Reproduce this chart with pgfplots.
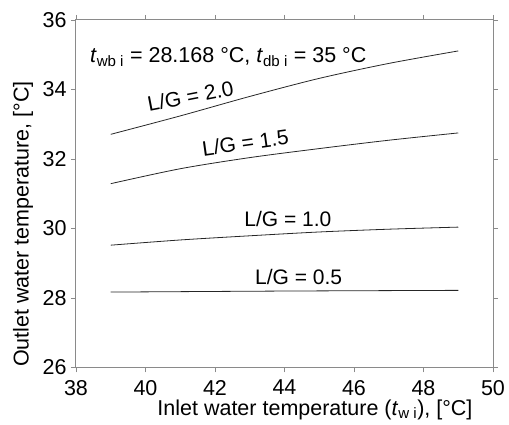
\documentclass[border=0pt]{standalone}
\usepackage{fontspec}
\setmainfont{Liberation Sans}
\usepackage{pgfplots}
\pgfplotsset{compat=1.18}
\definecolor{axgray}{HTML}{8A8A8A}
\begin{document}
\begin{tikzpicture}
\useasboundingbox (-76pt,-57.5pt) rectangle (433pt,367.5pt);
\begin{axis}[
  scale only axis,
  width=417pt, height=347.5pt,
  xmin=38, xmax=50, ymin=26, ymax=36,
  xtick={38,40,...,50}, ytick={26,28,...,36},
  tick align=outside,
  major tick length=5pt,
  axis line style={axgray, line width=1pt},
  every tick/.style={axgray, line width=0.9pt},
  /pgf/number format/assume math mode=true,
  tick label style={font=\fontsize{21.5}{25}\selectfont, black},
  xticklabel style={yshift=-4pt},
  yticklabel style={xshift=-1pt},
  label style={font=\fontsize{21.5}{25}\selectfont},
  xlabel={Inlet water temperature (\textit{t}\textsubscript{w i}), [°C]},
  ylabel={Outlet water temperature, [°C]},
  xlabel style={at={(rel axis cs:0.573,-0.137)}, anchor=base},
  ylabel style={at={(rel axis cs:-0.127,0.413)}, anchor=center},
  clip=false,
]
\addplot[black!85, line width=0.8pt, smooth] coordinates {
  (39,32.71) (41,33.24) (43,33.80) (45,34.32) (47,34.75) (49,35.11)};
\addplot[black!85, line width=0.8pt, smooth] coordinates {
  (39,31.29) (41,31.72) (43,32.04) (45,32.30) (47,32.54) (49,32.75)};
\addplot[black!85, line width=0.8pt, smooth] coordinates {
  (39,29.52) (41,29.67) (43,29.79) (45,29.90) (47,29.98) (49,30.04)};
\addplot[black!85, line width=0.8pt, smooth] coordinates {
  (39,28.17) (44,28.20) (49,28.22)};
\node[anchor=base west, inner sep=0pt, font=\fontsize{21.5}{25}\selectfont]
  at (axis cs:38.40,34.77)
  {\textit{t}\textsubscript{wb i} = 28.168 °C, \textit{t}\textsubscript{db i} = 35 °C};
\node[anchor=base west, inner sep=0pt, rotate=11, font=\fontsize{21}{25}\selectfont]
  at (axis cs:40.10,33.36) {L/G = 2.0};
\node[anchor=base west, inner sep=0pt, rotate=8, font=\fontsize{21}{25}\selectfont]
  at (axis cs:41.66,32.08) {L/G = 1.5};
\node[anchor=base west, inner sep=0pt, font=\fontsize{21}{25}\selectfont]
  at (axis cs:42.84,30.07) {L/G = 1.0};
\node[anchor=base west, inner sep=0pt, font=\fontsize{21}{25}\selectfont]
  at (axis cs:43.15,28.38) {L/G = 0.5};
\end{axis}
\end{tikzpicture}
\end{document}
